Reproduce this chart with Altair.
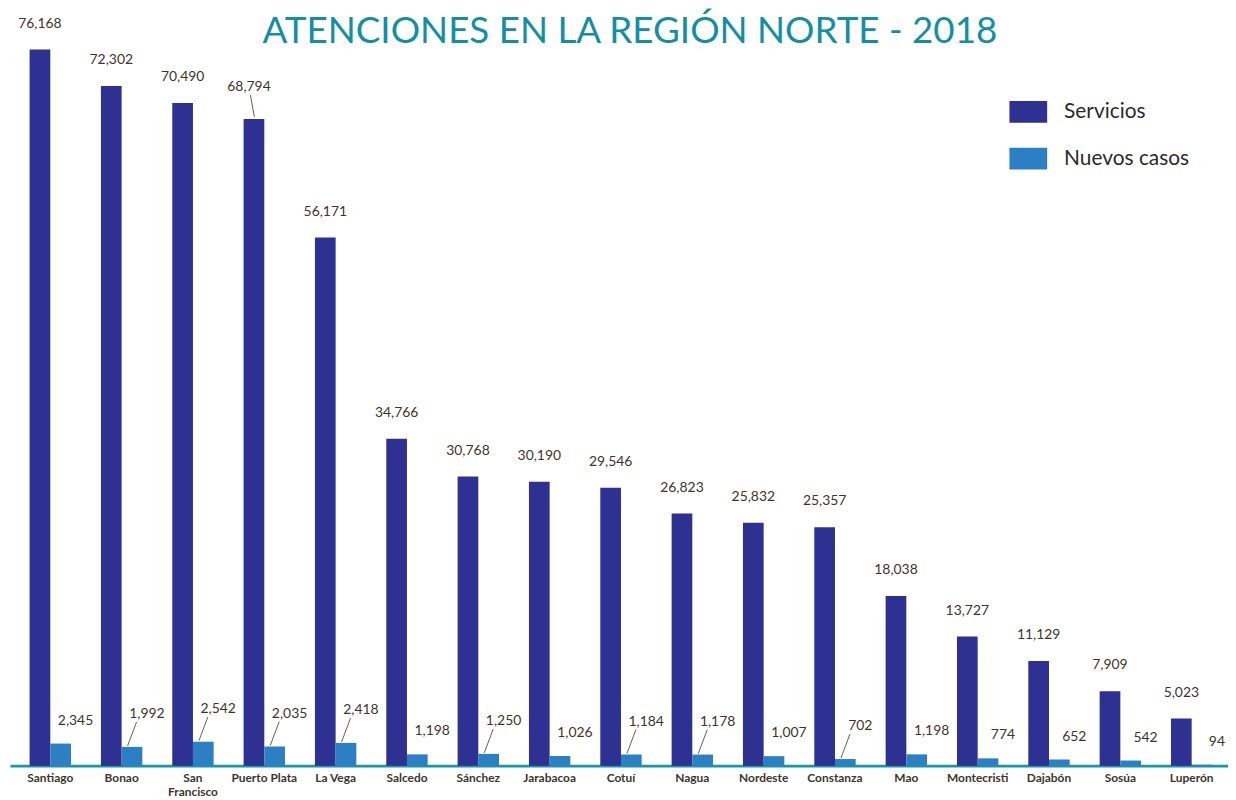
import altair as alt
import pandas as pd

categories = ["Santiago", "Bonao", "San Francisco", "Puerto Plata", "La Vega", "Salcedo",
              "Sánchez", "Jarabacoa", "Cotuí", "Nagua", "Nordeste", "Constanza", "Mao",
              "Montecristi", "Dajabón", "Sosúa", "Luperón"]
servicios = [76168, 72302, 70490, 68794, 56171, 34766, 30768, 30190, 29546, 26823,
             25832, 25357, 18038, 13727, 11129, 7909, 5023]
nuevos = [2345, 1992, 2542, 2035, 2418, 1198, 1250, 1026, 1184, 1178, 1007, 702,
          1198, 774, 652, 542, 94]
series = ["Servicios", "Nuevos casos"]
colors = ["#2e3192", "#2d7fc3"]
leader_servicios = ["Puerto Plata"]
leader_nuevos = ["Bonao", "San Francisco", "Puerto Plata", "La Vega", "Sánchez",
                 "Cotuí", "Nagua", "Constanza"]
title_text = "ATENCIONES EN LA REGIÓN NORTE - 2018"

rows = []
for c, s, n in zip(categories, servicios, nuevos):
    rows.append({"Categoria": c, "Serie": "Servicios", "Valor": s,
                 "Leader": c in leader_servicios})
    rows.append({"Categoria": c, "Serie": "Nuevos casos", "Valor": n,
                 "Leader": c in leader_nuevos})
df = pd.DataFrame(rows)

LABEL_COLOR = "#3d352c"
FONT = "Lato"

x_enc = alt.X("Categoria:N", sort=categories,
              scale=alt.Scale(domain=categories, range=[0, 1230],
                              paddingInner=0.42, paddingOuter=0.275),
              axis=alt.Axis(title=None, labelAngle=0, ticks=False, domain=True,
                            domainColor="#1598a8", domainWidth=3,
                            labelFont=FONT, labelFontSize=12, labelFontWeight="bold",
                            labelColor=LABEL_COLOR, labelPadding=7, labelLineHeight=14,
                            labelExpr="datum.label == 'San Francisco' ? ['San', 'Francisco'] : datum.label"))
xo_enc = alt.XOffset("Serie:N", sort=series,
                     scale=alt.Scale(domain=series, paddingInner=0, paddingOuter=0))
y_enc = alt.Y("Valor:Q", scale=alt.Scale(domain=[0, 80000]), axis=None)

base = alt.Chart(df)

bars = base.mark_bar().encode(
    x=x_enc, xOffset=xo_enc, y=y_enc,
    color=alt.Color("Serie:N", sort=series,
                    scale=alt.Scale(domain=series, range=colors),
                    legend=alt.Legend(title=None, orient="none", legendX=1006, legendY=80,
                                      symbolType="M-1,-0.58L1,-0.58L1,0.58L-1,0.58Z",
                                      symbolSize=1444, symbolStrokeWidth=0,
                                      symbolOpacity=1, labelFont=FONT, labelFontSize=21,
                                      labelColor="#2a2a2a", labelOffset=17,
                                      rowPadding=16, labelLimit=300)),
)

serv_lab = base.transform_filter(
    "datum.Serie == 'Servicios' && !datum.Leader"
).mark_text(font=FONT, fontSize=14, color=LABEL_COLOR, dy=-26, baseline="middle").encode(
    x=x_enc, xOffset=xo_enc, y=y_enc, text=alt.Text("Valor:Q", format=",")
)
serv_lab_l = base.transform_filter(
    "datum.Serie == 'Servicios' && datum.Leader"
).mark_text(font=FONT, fontSize=14, color=LABEL_COLOR, dy=-32, dx=-5, baseline="middle").encode(
    x=x_enc, xOffset=xo_enc, y=y_enc, text=alt.Text("Valor:Q", format=",")
)
serv_rule = base.transform_filter(
    "datum.Serie == 'Servicios' && datum.Leader"
).mark_rule(color="#6b5d4c", strokeWidth=1, xOffset=-10, x2Offset=-14,
            yOffset=-2, y2Offset=-24).encode(
    x=x_enc, x2=alt.X2("Categoria"), y=y_enc, y2=alt.Y2("Valor")
)

nue_lab = base.transform_filter(
    "datum.Serie == 'Nuevos casos' && !datum.Leader"
).mark_text(font=FONT, fontSize=14, color=LABEL_COLOR, dy=-23, dx=15, baseline="middle").encode(
    x=x_enc, xOffset=xo_enc, y=y_enc, text=alt.Text("Valor:Q", format=",")
)
nue_lab_l = base.transform_filter(
    "datum.Serie == 'Nuevos casos' && datum.Leader"
).mark_text(font=FONT, fontSize=14, color=LABEL_COLOR, dy=-33, dx=15, baseline="middle").encode(
    x=x_enc, xOffset=xo_enc, y=y_enc, text=alt.Text("Valor:Q", format=",")
)
nue_rule = base.transform_filter(
    "datum.Serie == 'Nuevos casos' && datum.Leader"
).mark_rule(color="#6b5d4c", strokeWidth=1, xOffset=6, x2Offset=15,
            yOffset=-1, y2Offset=-25).encode(
    x=x_enc, x2=alt.X2("Categoria"), y=y_enc, y2=alt.Y2("Valor")
)

chart = alt.layer(bars, serv_rule, nue_rule, serv_lab, serv_lab_l, nue_lab, nue_lab_l).properties(
    width=1226, height=757,
    padding={"left": 2, "top": 3, "right": 0, "bottom": 32},
    autosize=alt.AutoSizeParams(type="none"),
    title=alt.TitleParams(title_text, font=FONT, fontSize=37, fontWeight="normal",
                          color="#138ea2", anchor="middle", frame="group",
                          baseline="top", offset=0, dy=38, dx=11),
).configure_view(stroke=None)

chart.save("out.html", embed_options={"renderer": "svg", "actions": False})
